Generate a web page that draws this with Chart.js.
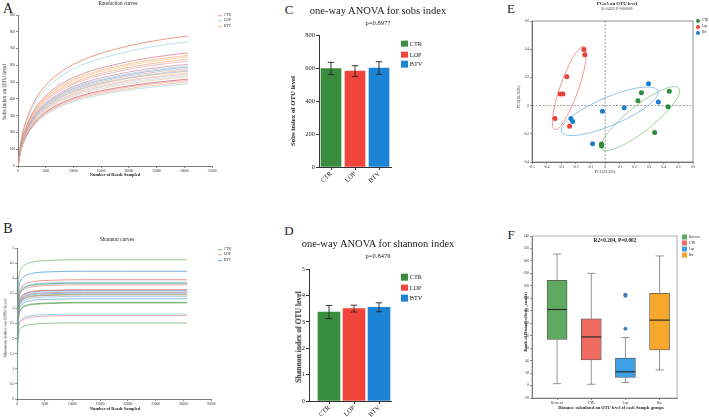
<!DOCTYPE html>
<html>
<head>
<meta charset="utf-8">
<script src="https://cdn.jsdelivr.net/npm/chart.js@4.4.1/dist/chart.umd.min.js"></script>
<style>
	body { margin: 0; background: #fff; }
	#fig { position: relative; width: 709px; height: 417px; overflow: hidden; font-family: 'Liberation Serif', 'Times New Roman', serif; color: #222; }
	.cv { position: absolute; }
	.t { position: absolute; white-space: nowrap; line-height: 1; transform: translate(-50%, -50%); }
	.rot { transform: translate(-50%, -50%) rotate(-90deg); }
	.b { font-weight: bold; }
	.lg { position: absolute; display: flex; align-items: center; white-space: nowrap; line-height: 1; transform: translateY(-50%); }
	.lg span.mk { display: inline-block; margin-right: 2px; }
</style>
</head>
<body>
<div id="fig">
	<!-- panel letters -->
	<div class="t" style="left:8px;top:9px;font-size:14px">A</div>
	<div class="t" style="left:8px;top:229px;font-size:14px">B</div>
	<div class="t" style="left:289px;top:9px;font-size:13px">C</div>
	<div class="t" style="left:289px;top:230px;font-size:13px">D</div>
	<div class="t" style="left:511px;top:8px;font-size:13px">E</div>
	<div class="t" style="left:511px;top:234px;font-size:13px">F</div>

	<!-- A -->
	<div class="cv" style="left:0;top:0;width:240px;height:180px"><canvas id="chartA"></canvas></div>
	<div class="t" style="left:118px;top:4px;font-size:5.2px">Rarefaction curves</div>
	<div class="t b" style="left:115px;top:175px;font-size:4.4px">Number of Reads Sampled</div>
	<div class="t rot" style="left:5px;top:92px;font-size:5.5px">Sobs index on OTU level</div>

	<!-- B -->
	<div class="cv" style="left:0;top:205px;width:240px;height:212px"><canvas id="chartB"></canvas></div>
	<div class="t" style="left:117px;top:240px;font-size:5.4px">Shannon curves</div>
	<div class="t b" style="left:115px;top:409px;font-size:4.4px">Number of Reads Sampled</div>
	<div class="t rot" style="left:5px;top:328px;font-size:5px">Shannon index on OTU level</div>

	<!-- C -->
	<div class="cv" style="left:280px;top:0;width:120px;height:200px"><canvas id="chartC"></canvas></div>
	<div class="t" style="left:378px;top:11px;font-size:10.5px">one-way ANOVA for sobs index</div>
	<div class="t" style="left:378px;top:23px;font-size:6.5px">p=0.8977</div>
	<div class="t rot b" style="left:293px;top:111px;font-size:6.8px">Sobs index of OTU level</div>

	<!-- D -->
	<div class="cv" style="left:280px;top:205px;width:120px;height:212px"><canvas id="chartD"></canvas></div>
	<div class="t" style="left:378px;top:244px;font-size:10.5px">one-way ANOVA for shannon index</div>
	<div class="t" style="left:378px;top:256px;font-size:6.5px">p=0.8476</div>
	<div class="t rot b" style="left:299px;top:337px;font-size:7.6px">Shannon index of OTU level</div>

	<!-- E -->
	<div class="cv" style="left:470px;top:0;width:239px;height:190px"><canvas id="chartE"></canvas></div>
	<div class="t b" style="left:617px;top:4px;font-size:4.8px">PCoA on OTU level</div>
	<div class="t" style="left:617px;top:9.5px;font-size:3.3px">R=0.4323, P=0.001000</div>
	<div class="t" style="left:605px;top:172px;font-size:4.2px">PC1(33.2%)</div>
	<div class="t rot" style="left:519px;top:97px;font-size:4.2px">PC2(16.55%)</div>

	<!-- F -->
	<div class="cv" style="left:470px;top:205px;width:239px;height:212px"><canvas id="chartF"></canvas></div>
	<div class="t b" style="left:615px;top:241px;font-size:5.4px">R2=0.204, P=0.002</div>
	<div class="t b" style="left:611px;top:408px;font-size:4.4px">Distance calculated on OTU level of each Sample groups</div>
	<div class="t rot b" style="left:526px;top:322px;font-size:4.6px">Rank of Distance(bray_curtis)</div>
</div>

<script>
// ---- data ----

// A: rarefaction (sobs) curves, one row per sample
const readsA = [0, 500, 1500, 3000, 5000, 8000, 12000, 17000, 23000, 30700];
const sobsCurves = [
	[0, 140, 272, 388, 481, 566, 636, 691, 737, 776],
	[0, 133, 259, 371, 459, 541, 608, 659, 704, 741],
	[0, 122, 236, 338, 419, 493, 554, 601, 641, 675],
	[0, 119, 231, 330, 409, 482, 541, 587, 627, 660],
	[0, 117, 228, 326, 404, 475, 534, 579, 618, 651],
	[0, 115, 223, 319, 395, 465, 522, 567, 605, 637],
	[0, 113, 219, 313, 388, 456, 513, 556, 594, 625],
	[0, 109, 212, 304, 376, 443, 498, 540, 577, 607],
	[0, 107, 209, 299, 370, 436, 490, 531, 567, 597],
	[0, 106, 207, 295, 366, 431, 484, 525, 561, 590],
	[0, 105, 203, 291, 360, 424, 476, 517, 552, 581],
	[0, 103, 200, 286, 355, 418, 469, 509, 543, 572],
	[0, 102, 198, 283, 351, 413, 464, 504, 538, 566],
	[0, 100, 194, 278, 344, 405, 455, 494, 527, 555],
	[0, 99, 192, 274, 340, 400, 449, 488, 521, 548],
	[0, 97, 189, 270, 335, 394, 443, 481, 513, 540],
	[0, 96, 186, 266, 330, 388, 436, 473, 505, 532],
	[0, 93, 181, 259, 321, 378, 425, 461, 492, 518],
	[0, 92, 179, 255, 316, 372, 418, 454, 485, 510],
	[0, 90, 175, 250, 310, 365, 410, 445, 475, 500],
	[0, 88, 172, 245, 304, 358, 402, 436, 466, 490],
];
const colorsA = ['#e8704a', '#9fd3ee', '#d8707e', '#f2b37a', '#f6c48c', '#f1a96a', '#e7a3b0',
	'#d5869a', '#a9cfe6', '#8fa7c4', '#b6b6c8', '#e8b58e', '#9ab6cf', '#f0c49a', '#ecb7c1',
	'#b8dcef', '#f4c79c', '#c9545e', '#e6a0a8', '#f1b67e', '#a8d6ee'];
const legendA = ['CTR', 'LOP', 'BTV'];
const legendColorsA = ['#e89aa6', '#a8d4ec', '#f2b37a'];

// B: shannon curves
const readsB = [0, 100, 300, 700, 1500, 3000, 6000, 12000, 20000, 30700];
const shannonCurves = [
	[0, 2.77, 3.92, 4.29, 4.45, 4.54, 4.59, 4.61, 4.61, 4.61],
	[0, 2.54, 3.60, 3.93, 4.08, 4.17, 4.21, 4.23, 4.23, 4.23],
	[0, 2.37, 3.36, 3.67, 3.81, 3.89, 3.93, 3.95, 3.95, 3.95],
	[0, 2.32, 3.29, 3.60, 3.73, 3.81, 3.85, 3.87, 3.87, 3.87],
	[0, 2.30, 3.26, 3.57, 3.71, 3.78, 3.82, 3.84, 3.84, 3.84],
	[0, 2.29, 3.25, 3.55, 3.69, 3.76, 3.80, 3.82, 3.82, 3.82],
	[0, 2.27, 3.21, 3.52, 3.65, 3.72, 3.76, 3.78, 3.78, 3.78],
	[0, 2.17, 3.08, 3.37, 3.49, 3.57, 3.60, 3.62, 3.62, 3.62],
	[0, 2.16, 3.06, 3.35, 3.47, 3.55, 3.58, 3.60, 3.60, 3.60],
	[0, 2.14, 3.03, 3.32, 3.45, 3.52, 3.55, 3.57, 3.57, 3.57],
	[0, 2.12, 3.01, 3.29, 3.42, 3.49, 3.52, 3.54, 3.54, 3.54],
	[0, 2.11, 2.98, 3.26, 3.39, 3.46, 3.49, 3.51, 3.51, 3.51],
	[0, 2.08, 2.95, 3.23, 3.35, 3.42, 3.45, 3.47, 3.47, 3.47],
	[0, 2.07, 2.93, 3.21, 3.33, 3.40, 3.43, 3.45, 3.45, 3.45],
	[0, 2.04, 2.89, 3.16, 3.28, 3.35, 3.38, 3.40, 3.40, 3.40],
	[0, 1.99, 2.82, 3.09, 3.20, 3.27, 3.30, 3.32, 3.32, 3.32],
	[0, 1.92, 2.72, 2.98, 3.09, 3.15, 3.18, 3.20, 3.20, 3.20],
	[0, 1.91, 2.70, 2.96, 3.07, 3.13, 3.16, 3.18, 3.18, 3.18],
	[0, 1.69, 2.39, 2.61, 2.71, 2.77, 2.80, 2.81, 2.81, 2.81],
	[0, 1.66, 2.35, 2.57, 2.66, 2.72, 2.75, 2.76, 2.76, 2.76],
	[0, 1.51, 2.14, 2.34, 2.43, 2.48, 2.51, 2.52, 2.52, 2.52],
];
const colorsB = ['#6aae6a', '#3d8fd0', '#e86a6a', '#7fc6e6', '#59a35a', '#86c9e8', '#f08c8c',
	'#e05a5a', '#5fa7db', '#9fd4ec', '#e67878', '#4a98d4', '#7ab97a', '#d86464', '#70bde3',
	'#5a9fd6', '#4f9e50', '#62ad62', '#7cc7e7', '#e88080', '#68ab68'];
const legendColorsB = ['#79b879', '#e8a0a0', '#5c9ed8'];

// C, D: one-way ANOVA bars
const groups = ['CTR', 'LOP', 'BTV'];
const barColors = ['#3a8d3f', '#f1453b', '#1c84d4'];
const sobsMean = [597, 581, 600];
const sobsErr = [37, 33, 38];
const shannonMean = [3.37, 3.5, 3.55];
const shannonErr = [0.25, 0.13, 0.17];

// E: PCoA points [PC1, PC2]
const pcoaCTR = [[0.438, 0.101], [0.248, 0.092], [0.224, 0.035], [0.43, -0.009], [0.338, -0.19], [-0.025, -0.273], [-0.025, -0.287]];
const pcoaLop = [[-0.146, 0.398], [-0.139, 0.36], [-0.262, 0.205], [-0.308, 0.082], [-0.289, 0.082], [-0.343, -0.092], [-0.243, -0.146]];
const pcoaBtv = [[0.296, 0.155], [0.363, 0.026], [0.13, -0.016], [-0.019, -0.04], [-0.234, -0.092], [-0.222, -0.113], [-0.086, -0.271]];
const pcoaLabels = ['CTR', 'Lop', 'Btv'];
const pcoaColors = ['#2f8c3a', '#e8403a', '#1a7fd0'];
const ellipseColors = ['#86c486', '#f07a7a', '#72b4e2'];
// ellipse centre and the two semi-axis vectors, per group
const ellipseCentre = [[0.241, -0.092], [-0.245, 0.125], [0.030, -0.040]];
const ellipseAxisU = [[0.262, 0.216], [0.0995, 0.294], [0.329, 0.146]];
const ellipseAxisV = [[0.056, -0.069], [0.059, -0.021], [0.039, -0.091]];

// F: ANOSIM box plot
const boxGroups = ['Between', 'CTR', 'Lop', 'Btv'];
const boxColors = ['#5fa860', '#ef6b61', '#3ea0e4', '#f6a82a'];
const boxMin = [3, 2, 5, 25];
const boxQ1 = [74, 41, 13, 57];
const boxMed = [122, 78, 22, 105];
const boxQ3 = [169, 107, 44, 148];
const boxMax = [211, 180, 77, 208];
const lopOutliers = [145.8, 144.2, 91.3];

Chart.defaults.font.family = "'Liberation Serif', 'Times New Roman', serif";
Chart.defaults.color = '#333';
Chart.defaults.animation = false;
Chart.defaults.plugins.legend.display = false;
Chart.defaults.plugins.tooltip.enabled = false;

// ---- small plugins ----
const errBars = {
	id: 'errBars',
	afterDatasetsDraw(chart, args, opts) {
		const { ctx } = chart;
		const y = chart.scales.y;
		const meta = chart.getDatasetMeta(0);
		const data = chart.data.datasets[0].data;
		ctx.save();
		ctx.strokeStyle = '#222';
		ctx.lineWidth = 0.9;
		meta.data.forEach((bar, i) => {
			const top = y.getPixelForValue(data[i].y + opts.err[i]);
			const bot = y.getPixelForValue(data[i].y - opts.err[i]);
			ctx.beginPath();
			ctx.moveTo(bar.x, top); ctx.lineTo(bar.x, bot);
			ctx.moveTo(bar.x - opts.cap, top); ctx.lineTo(bar.x + opts.cap, top);
			ctx.moveTo(bar.x - opts.cap, bot); ctx.lineTo(bar.x + opts.cap, bot);
			ctx.stroke();
		});
		ctx.restore();
	},
};

const frame = {
	id: 'frame',
	afterDraw(chart, args, opts) {
		const { ctx, chartArea: a } = chart;
		ctx.save();
		ctx.strokeStyle = opts.color || '#777';
		ctx.lineWidth = 0.7;
		ctx.strokeRect(a.left, a.top, a.right - a.left, a.bottom - a.top);
		ctx.restore();
	},
};

const zeroLines = {
	id: 'zeroLines',
	beforeDatasetsDraw(chart) {
		const { ctx, chartArea: a, scales: { x, y } } = chart;
		ctx.save();
		ctx.strokeStyle = '#555';
		ctx.lineWidth = 0.6;
		ctx.setLineDash([2, 1.5]);
		ctx.beginPath();
		ctx.moveTo(x.getPixelForValue(0), a.top); ctx.lineTo(x.getPixelForValue(0), a.bottom);
		ctx.moveTo(a.left, y.getPixelForValue(0)); ctx.lineTo(a.right, y.getPixelForValue(0));
		ctx.stroke();
		ctx.restore();
	},
};

const ellipses = {
	id: 'ellipses',
	beforeDatasetsDraw(chart) {
		const { ctx, scales: { x, y } } = chart;
		ctx.save();
		ctx.lineWidth = 0.8;
		ellipseCentre.forEach((c, g) => {
			const u = ellipseAxisU[g], v = ellipseAxisV[g];
			ctx.strokeStyle = ellipseColors[g];
			ctx.beginPath();
			for (let k = 0; k <= 96; k++) {
				const t = (k / 96) * Math.PI * 2;
				const px = x.getPixelForValue(c[0] + u[0] * Math.cos(t) + v[0] * Math.sin(t));
				const py = y.getPixelForValue(c[1] + u[1] * Math.cos(t) + v[1] * Math.sin(t));
				if (k === 0) ctx.moveTo(px, py); else ctx.lineTo(px, py);
			}
			ctx.stroke();
		});
		ctx.restore();
	},
};

const whiskers = {
	id: 'whiskers',
	afterDatasetsDraw(chart) {
		const { ctx } = chart;
		const y = chart.scales.y;
		const meta = chart.getDatasetMeta(0);
		ctx.save();
		meta.data.forEach((bar, i) => {
			const x = bar.x, hw = bar.width / 2;
			const pMax = y.getPixelForValue(boxMax[i]), pMin = y.getPixelForValue(boxMin[i]);
			ctx.strokeStyle = '#777';
			ctx.lineWidth = 0.8;
			ctx.beginPath();
			ctx.moveTo(x, pMax); ctx.lineTo(x, y.getPixelForValue(boxQ3[i]));
			ctx.moveTo(x, y.getPixelForValue(boxQ1[i])); ctx.lineTo(x, pMin);
			ctx.moveTo(x - 4, pMax); ctx.lineTo(x + 4, pMax);
			ctx.moveTo(x - 4, pMin); ctx.lineTo(x + 4, pMin);
			ctx.stroke();
			ctx.strokeStyle = '#2a2a2a';
			ctx.lineWidth = 1.2;
			ctx.beginPath();
			const pMed = y.getPixelForValue(boxMed[i]);
			ctx.moveTo(x - hw, pMed); ctx.lineTo(x + hw, pMed);
			ctx.stroke();
		});
		ctx.restore();
	},
};

// shared axis bits
function border() { return { display: true, color: '#444', width: 0.7 }; }
function tickGrid() { return { display: true, drawOnChartArea: false, drawTicks: true, tickLength: 2, color: '#444', lineWidth: 0.6, offset: false }; }

// ---- A: rarefaction curves ----
new Chart(document.getElementById('chartA'), {
	type: 'line',
	data: {
		datasets: sobsCurves.map((c, i) => ({
			data: readsA.map((r, k) => ({ x: r, y: c[k] })),
			borderColor: colorsA[i],
			borderWidth: 0.7,
			pointRadius: 0,
			cubicInterpolationMode: 'monotone',
			fill: false,
		})),
	},
	options: {
		responsive: true,
		maintainAspectRatio: false,
		layout: { padding: { top: 15, right: 28, left: 0, bottom: 0 } },
		scales: {
			x: {
				type: 'linear', min: 0, max: 35000,
				border: border(), grid: tickGrid(),
				ticks: { stepSize: 5000, font: { size: 3.5 }, padding: 1, maxRotation: 0, autoSkip: false, callback: (v) => v },
				afterFit: (s) => { s.height = 14; },
			},
			y: {
				min: 0, max: 900,
				border: border(), grid: tickGrid(),
				ticks: { stepSize: 100, font: { size: 3.5 }, padding: 1, callback: (v) => v },
				afterFit: (s) => { s.width = 18; },
			},
		},
	},
});

// ---- B: shannon curves ----
new Chart(document.getElementById('chartB'), {
	type: 'line',
	data: {
		datasets: shannonCurves.map((c, i) => ({
			data: readsB.map((r, k) => ({ x: r, y: c[k] })),
			borderColor: colorsB[i],
			borderWidth: 0.7,
			pointRadius: 0,
			cubicInterpolationMode: 'monotone',
			fill: false,
		})),
	},
	options: {
		responsive: true,
		maintainAspectRatio: false,
		layout: { padding: { top: 43, right: 29, left: 0, bottom: 0 } },
		scales: {
			x: {
				type: 'linear', min: 0, max: 35000,
				border: border(), grid: tickGrid(),
				ticks: { stepSize: 5000, font: { size: 3.5 }, padding: 1, maxRotation: 0, autoSkip: false, callback: (v) => v },
				afterFit: (s) => { s.height = 18; },
			},
			y: {
				min: 0, max: 5,
				border: border(), grid: tickGrid(),
				ticks: { stepSize: 0.5, font: { size: 3.5 }, padding: 1, callback: (v) => v },
				afterFit: (s) => { s.width = 17; },
			},
		},
	},
});

// ---- C / D: ANOVA bars ----
function anovaBars(id, means, errs, yMax, step, xMin, xMax, thick, pad, yW, xH) {
	new Chart(document.getElementById(id), {
		type: 'bar',
		data: {
			datasets: [{
				data: groups.map((g, i) => ({ x: i + 1, y: means[i] })),
				backgroundColor: barColors,
				barThickness: thick,
			}],
		},
		options: {
			responsive: true,
			maintainAspectRatio: false,
			layout: { padding: { top: pad, right: 9, left: 0, bottom: 0 } },
			plugins: { errBars: { err: errs, cap: 3.3 } },
			scales: {
				x: {
					type: 'linear', min: xMin, max: xMax, offset: false,
					border: { display: true, color: '#333', width: 1 },
					grid: { display: true, drawOnChartArea: false, tickLength: 3, color: '#333', offset: false },
					afterBuildTicks: (s) => { s.ticks = groups.map((g, i) => ({ value: i + 1 })); },
					ticks: { font: { size: 6.5 }, color: '#222', padding: 0, minRotation: 45, maxRotation: 45, autoSkip: false, callback: (v) => groups[v - 1] },
					afterFit: (s) => { s.height = xH; },
				},
				y: {
					min: 0, max: yMax,
					border: { display: true, color: '#333', width: 1 },
					grid: { display: true, drawOnChartArea: false, tickLength: 3, color: '#333' },
					ticks: { stepSize: step, font: { size: 6.5 }, color: '#222', padding: 1 },
					afterFit: (s) => { s.width = yW; },
				},
			},
		},
		plugins: [errBars],
	});
}
anovaBars('chartC', sobsMean, sobsErr, 800, 200, 0.5, 3.5, 20, 35, 39, 33);
anovaBars('chartD', shannonMean, shannonErr, 5, 1, 0.2, 3.48, 22, 64, 29, 16);

// ---- E: PCoA ----
new Chart(document.getElementById('chartE'), {
	type: 'scatter',
	data: {
		datasets: [pcoaCTR, pcoaLop, pcoaBtv].map((pts, g) => ({
			data: pts.map((p) => ({ x: p[0], y: p[1] })),
			backgroundColor: pcoaColors[g],
			borderWidth: 0,
			pointRadius: 2.5,
		})),
	},
	options: {
		responsive: true,
		maintainAspectRatio: false,
		layout: { padding: { top: 21, right: 16, left: 0, bottom: 0 } },
		plugins: { frame: { color: '#666' } },
		scales: {
			x: {
				type: 'linear', min: -0.5, max: 0.6,
				border: border(), grid: tickGrid(),
				ticks: { stepSize: 0.1, font: { size: 3.5 }, padding: 1, maxRotation: 0, autoSkip: false, callback: (v) => Math.round(v * 10) / 10 },
				afterFit: (s) => { s.height = 28; },
			},
			y: {
				min: -0.4, max: 0.6,
				border: border(), grid: tickGrid(),
				ticks: { stepSize: 0.2, font: { size: 3.5 }, padding: 1, callback: (v) => Math.round(v * 10) / 10 },
				afterFit: (s) => { s.width = 62; },
			},
		},
	},
	plugins: [zeroLines, ellipses, frame],
});

// ---- F: box plot ----
new Chart(document.getElementById('chartF'), {
	type: 'bar',
	data: {
		datasets: [
			{
				data: boxGroups.map((g, i) => ({ x: i + 1, y: [boxQ1[i], boxQ3[i]] })),
				backgroundColor: boxColors,
				borderColor: '#555',
				borderWidth: 0.8,
				borderSkipped: false,
				barThickness: 20,
			},
			{
				type: 'scatter',
				data: lopOutliers.map((v) => ({ x: 3, y: v })),
				backgroundColor: '#3a84c4',
				borderColor: '#2a6aa8',
				borderWidth: 0.5,
				pointRadius: 1.7,
			},
		],
	},
	options: {
		responsive: true,
		maintainAspectRatio: false,
		layout: { padding: { top: 31, right: 32, left: 0, bottom: 0 } },
		plugins: { frame: { color: '#888' } },
		scales: {
			x: {
				type: 'linear', min: 0.265, max: 4.51, offset: false,
				border: border(), grid: tickGrid(),
				afterBuildTicks: (s) => { s.ticks = boxGroups.map((g, i) => ({ value: i + 1 })); },
				ticks: { font: { size: 3.5 }, padding: 1, maxRotation: 0, autoSkip: false, callback: (v) => boxGroups[v - 1] },
				afterFit: (s) => { s.height = 19; },
			},
			y: {
				min: -20, max: 240,
				border: border(), grid: tickGrid(),
				ticks: { stepSize: 20, font: { size: 3.5 }, padding: 1 },
				afterFit: (s) => { s.width = 62; },
			},
		},
	},
	plugins: [whiskers, frame],
});

// ---- legends ----
const fig = document.getElementById('fig');
function legend(left, tops, labels, colors, kind, mk, size) {
	labels.forEach((lab, i) => {
		const row = document.createElement('div');
		row.className = 'lg';
		row.style.left = left + 'px';
		row.style.top = tops[i] + 'px';
		row.style.fontSize = size + 'px';
		const m = document.createElement('span');
		m.className = 'mk';
		if (kind === 'line') {
			m.style.width = mk + 'px';
			m.style.height = '0.7px';
		} else {
			m.style.width = mk + 'px';
			m.style.height = mk + 'px';
			if (kind === 'dot') m.style.borderRadius = '50%';
		}
		m.style.background = colors[i];
		row.appendChild(m);
		row.appendChild(document.createTextNode(lab));
		fig.appendChild(row);
	});
}
legend(218, [15.5, 21, 27], legendA, legendColorsA, 'line', 4, 3.5);
legend(218, [249.5, 255, 261], legendA, legendColorsB, 'line', 4, 3.5);
legend(401, [43.7, 54.7, 64.3], groups, barColors, 'square', 6.7, 6.3);
legend(401, [277, 287.7, 298.3], groups, barColors, 'square', 6.7, 6.3);
legend(696, [21, 27, 33], pcoaLabels, pcoaColors, 'dot', 4, 3.2);
legend(682, [237, 243, 249, 255], boxGroups, boxColors, 'square', 5, 3.2);
</script>
</body>
</html>
